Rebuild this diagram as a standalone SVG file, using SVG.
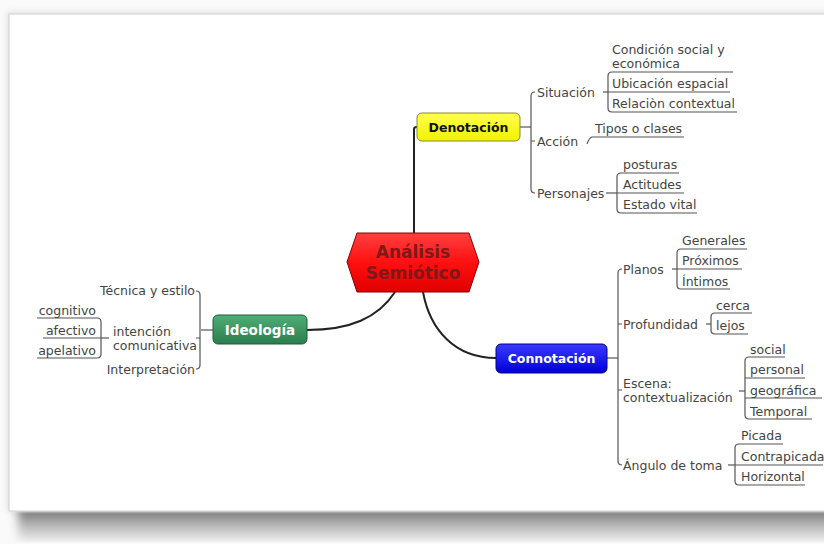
<svg xmlns="http://www.w3.org/2000/svg" width="824" height="544" viewBox="0 0 824 544">
<defs>
<style>
.lbl{font-family:"DejaVu Sans","Noto Sans",sans-serif;font-size:12.5px;fill:#444}
.ln{fill:none;stroke:#555;stroke-width:1.2}
.main{fill:none;stroke:#222;stroke-width:2}
.node{font-family:"DejaVu Sans","Noto Sans",sans-serif;font-weight:bold;font-size:12.5px;text-anchor:middle}
</style>
<linearGradient id="gRed" x1="0" y1="0" x2="0" y2="1"><stop offset="0" stop-color="#ff4040"/><stop offset="0.5" stop-color="#ff1010"/><stop offset="1" stop-color="#e00000"/></linearGradient>
<linearGradient id="gYel" x1="0" y1="0" x2="0" y2="1"><stop offset="0" stop-color="#ffff50"/><stop offset="1" stop-color="#f2f200"/></linearGradient>
<linearGradient id="gBlu" x1="0" y1="0" x2="0" y2="1"><stop offset="0" stop-color="#3a3aff"/><stop offset="1" stop-color="#0000d8"/></linearGradient>
<linearGradient id="gGrn" x1="0" y1="0" x2="0" y2="1"><stop offset="0" stop-color="#4fae76"/><stop offset="1" stop-color="#2b7d4d"/></linearGradient>
<linearGradient id="gSh" x1="0" y1="0" x2="0" y2="1"><stop offset="0" stop-color="#808080"/><stop offset="0.5" stop-color="#bdbdbd"/><stop offset="1" stop-color="#f0f0f0"/></linearGradient>
<filter id="blur" x="-0.1" y="-0.5" width="1.2" height="2"><feGaussianBlur stdDeviation="5 1"/></filter>
<filter id="blur2" x="-0.1" y="-0.1" width="1.2" height="1.2"><feGaussianBlur stdDeviation="3"/></filter>
</defs>
<rect x="0" y="0" width="824" height="544" fill="#fafafa"/>
<rect x="7" y="12" width="830" height="500" fill="#000" opacity="0.1" filter="url(#blur2)"/>
<rect x="18" y="512" width="820" height="30" fill="url(#gSh)" filter="url(#blur)"/>
<rect x="9" y="14" width="830" height="497" fill="#fff" stroke="#d0d0d0" stroke-width="1"/>

<g id="connectors">
<path class="main" d="M414,233 V129 Q414,127 417,127"/>
<path class="main" d="M423,292 C430,330 455,358 496,358"/>
<path class="main" d="M395,292 C378,318 350,330 307,330"/>
<path class="ln" d="M520,127 H531"/>
<path class="ln" d="M535,92 Q531,92 531,96 V189 Q531,193 535,193 M531,141 H535"/>
<path class="ln" d="M603,92 H608"/>
<path class="ln" d="M733,72 H612 Q608,72 608,76 V108 Q608,112 612,112 H737 M608,92 H730"/>
<path class="ln" d="M587,144 Q589,138 592,137 H684"/>
<path class="ln" d="M606,193 H617"/>
<path class="ln" d="M679,173 H621 Q617,173 617,177 V209 Q617,213 621,213 H697 M617,193 H684"/>
<path class="ln" d="M607,358 H618"/>
<path class="ln" d="M622,269 Q618,269 618,273 V461 Q618,465 622,465 M618,324 H622 M618,390 H622"/>
<path class="ln" d="M672,269 H677"/>
<path class="ln" d="M747,249 H681 Q677,249 677,253 V285 Q677,289 681,289 H730 M677,269 H742"/>
<path class="ln" d="M706,324 H711"/>
<path class="ln" d="M752,313 H715 Q711,313 711,317 V330 Q711,334 715,334 H748"/>
<path class="ln" d="M739,391 H745"/>
<path class="ln" d="M785,357 H749 Q745,357 745,361 V415 Q745,419 749,419 H812 M745,378 H805 M745,398 H822"/>
<path class="ln" d="M728,465 H735"/>
<path class="ln" d="M783,444 H739 Q735,444 735,448 V481 Q735,485 739,485 H805 M735,465 H823"/>
<path class="ln" d="M213,330 H201"/>
<path class="ln" d="M196,291 Q200,291 200,295 V365 Q200,369 196,369 M200,338 H196"/>
<path class="ln" d="M109,338 H101"/>
<path class="ln" d="M37,318 H97 Q101,318 101,322 V354 Q101,358 97,358 H37 M101,338 H43"/>
</g>

<g id="central">
<polygon points="347,262 357,233 469,233 479,262 469,292 357,292" fill="url(#gRed)" stroke="#8a0000" stroke-width="1"/>
<text class="node" x="413" y="258" style="font-size:17px" fill="#801818">Análisis</text>
<text class="node" x="413" y="278.5" style="font-size:17px" fill="#801818">Semiótico</text>
</g>

<g id="denotacion">
<rect x="417" y="113" width="103" height="28" rx="5" fill="url(#gYel)" stroke="#8a8a30" stroke-width="1"/>
<text class="node" x="468.5" y="131.5" fill="#111">Denotación</text>
</g>
<g id="situacion"><text class="lbl" x="537" y="96.5">Situación</text></g>
<g id="condicion"><text class="lbl" x="612" y="54">Condición social y</text><text class="lbl" x="612" y="68">económica</text></g>
<g id="ubicacion"><text class="lbl" x="612" y="88">Ubicación espacial</text></g>
<g id="relacion"><text class="lbl" x="612" y="108">Relaciòn contextual</text></g>
<g id="accion"><text class="lbl" x="537" y="145.5">Acción</text></g>
<g id="tipos"><text class="lbl" x="595" y="133">Tipos o clases</text></g>
<g id="personajes"><text class="lbl" x="537" y="197.5">Personajes</text></g>
<g id="posturas"><text class="lbl" x="623" y="169">posturas</text></g>
<g id="actitudes"><text class="lbl" x="623" y="189">Actitudes</text></g>
<g id="estado"><text class="lbl" x="623" y="209">Estado vital</text></g>

<g id="connotacion">
<rect x="496" y="344" width="111" height="29" rx="5" fill="url(#gBlu)" stroke="#00008a" stroke-width="1"/>
<text class="node" x="551.5" y="363" fill="#fff">Connotación</text>
</g>
<g id="planos"><text class="lbl" x="623" y="273.5">Planos</text></g>
<g id="generales"><text class="lbl" x="682" y="245">Generales</text></g>
<g id="proximos"><text class="lbl" x="682" y="265">Próximos</text></g>
<g id="intimos"><text class="lbl" x="682" y="285.5">Íntimos</text></g>
<g id="profundidad"><text class="lbl" x="623" y="328.5">Profundidad</text></g>
<g id="cerca"><text class="lbl" x="716" y="310">cerca</text></g>
<g id="lejos"><text class="lbl" x="716" y="330">lejos</text></g>
<g id="escena"><text class="lbl" x="623" y="387.5">Escena:</text><text class="lbl" x="623" y="401.5">contextualización</text></g>
<g id="social"><text class="lbl" x="750" y="353.5">social</text></g>
<g id="personal"><text class="lbl" x="750" y="374">personal</text></g>
<g id="geografica"><text class="lbl" x="750" y="394.5">geográfica</text></g>
<g id="temporal"><text class="lbl" x="750" y="415.5">Temporal</text></g>
<g id="angulo"><text class="lbl" x="623" y="469.5">Ángulo de toma</text></g>
<g id="picada"><text class="lbl" x="741" y="439.5">Picada</text></g>
<g id="contrapicada"><text class="lbl" x="741" y="460.5">Contrapicada</text></g>
<g id="horizontal"><text class="lbl" x="741" y="481">Horizontal</text></g>

<g id="ideologia">
<rect x="213" y="315" width="94" height="29" rx="5" fill="url(#gGrn)" stroke="#1f5e38" stroke-width="1"/>
<text class="node" x="260" y="334.5" fill="#fff" style="font-size:13.5px">Ideología</text>
</g>
<g id="tecnica"><text class="lbl" x="195" y="295" text-anchor="end">Técnica y estilo</text></g>
<g id="intencion"><text class="lbl" x="113" y="336">intención</text><text class="lbl" x="113" y="350">comunicativa</text></g>
<g id="interpretacion"><text class="lbl" x="195" y="373.5" text-anchor="end">Interpretación</text></g>
<g id="cognitivo"><text class="lbl" x="96" y="315" text-anchor="end">cognitivo</text></g>
<g id="afectivo"><text class="lbl" x="96" y="335" text-anchor="end">afectivo</text></g>
<g id="apelativo"><text class="lbl" x="96" y="355" text-anchor="end">apelativo</text></g>
</svg>
